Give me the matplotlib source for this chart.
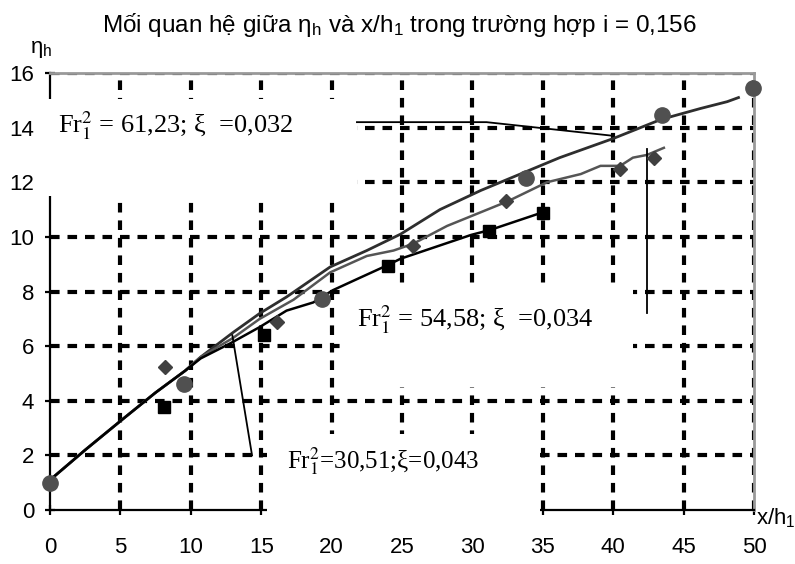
import matplotlib
matplotlib.use("Agg")
import matplotlib.pyplot as plt
from matplotlib.patches import Rectangle

plt.rcParams['font.family'] = ['Liberation Sans', 'DejaVu Sans']
plt.rcParams['mathtext.fontset'] = 'custom'
plt.rcParams['mathtext.rm'] = 'Liberation Sans'
plt.rcParams['mathtext.it'] = 'Liberation Sans:italic'

# fitted curves
x_61 = [0, 2.5, 5.1, 7.5, 9.6, 10.7, 13.0, 14.9, 16.8, 19.9, 22.5, 24.9, 27.7, 30.6, 33.4, 36.2, 40.0, 43.4, 46.2, 48.1, 48.9]
y_61 = [1.1, 2.2, 3.3, 4.3, 5.1, 5.6, 6.5, 7.2, 7.8, 8.9, 9.5, 10.1, 11.0, 11.7, 12.3, 12.9, 13.6, 14.3, 14.7, 14.95, 15.1]

x_54 = [0, 2.5, 5.1, 7.5, 9.6, 10.7, 13.0, 14.9, 17.3, 19.9, 22.5, 24.4, 25.8, 28.2, 32.5, 35.3, 37.7, 39.1, 40.5, 41.4, 42.4, 43.6]
y_54 = [1.1, 2.2, 3.3, 4.3, 5.1, 5.6, 6.3, 7.0, 7.7, 8.7, 9.3, 9.5, 9.75, 10.4, 11.3, 12.0, 12.3, 12.6, 12.6, 12.9, 13.0, 13.26]

x_30 = [0, 2.5, 5.1, 7.5, 9.6, 10.7, 12.8, 14.9, 16.8, 18.7, 20.1, 22.0, 24.0, 24.9, 29.9, 31.3, 35.0]
y_30 = [1.1, 2.2, 3.3, 4.3, 5.1, 5.55, 6.1, 6.7, 7.3, 7.6, 8.05, 8.5, 8.97, 9.2, 10.07, 10.26, 10.9]

# measured points
circ_x = [0, 9.5, 19.3, 33.8, 43.5, 49.9]
circ_y = [1.0, 4.6, 7.73, 12.15, 14.47, 15.46]
diam_x = [8.2, 16.1, 25.8, 32.4, 40.5, 42.9]
diam_y = [5.25, 6.9, 9.67, 11.3, 12.5, 12.9]
sq_x = [8.1, 15.2, 24.0, 31.2, 35.0]
sq_y = [3.77, 6.4, 8.94, 10.2, 10.87]

# leader lines for the labels
lead1_x, lead1_y = [21.8, 31.0, 40.0], [14.2, 14.2, 13.7]
lead2_x, lead2_y = [42.4, 42.4], [13.2, 7.2]
lead3_x, lead3_y = [12.95, 14.35], [6.4, 2.0]

labels = [r"Fr$_1^2$ = 61,23; ξ  =0,032", r"Fr$_1^2$ = 54,58; ξ  =0,034", r"Fr$_1^2$=30,51;ξ=0,043"]
label_pos = [(0.57, 13.8), (21.8, 6.7), (16.85, 1.54)]
label_size = [19, 19, 18]
# white boxes that hide the grid behind the labels
masks = [(-0.4, 11.5, 22.2, 3.55), (20.6, 4.5, 20.8, 3.65), (15.4, -0.25, 19.4, 3.05)]

xticks = [0, 5, 10, 15, 20, 25, 30, 35, 40, 45, 50]
yticks = [0, 2, 4, 6, 8, 10, 12, 14, 16]

fig = plt.figure(figsize=(7.95, 5.64), dpi=100)
ax = fig.add_axes([0.0629, 0.0957, 0.8855, 0.7749])
ax.set_xlim(0, 50)
ax.set_ylim(0, 16)

for v in xticks[1:]:
    ax.axvline(v, color='black', lw=3, ls=(0, (2.3, 1.9)), zorder=1)
for v in yticks[1:]:
    ax.axhline(v, color='black', lw=3, ls=(0, (2.3, 1.9)), zorder=1)

for sp in ['left', 'bottom']:
    ax.spines[sp].set_color('black')
    ax.spines[sp].set_linewidth(1.6)
for sp in ['top', 'right']:
    ax.spines[sp].set_color('#999999')
    ax.spines[sp].set_linewidth(2)

ax.set_xticks(xticks)
ax.set_yticks(yticks)
ax.tick_params(direction='inout', length=7, width=1.6, labelsize=16)
ax.tick_params(axis='x', pad=16)
ax.tick_params(axis='y', pad=8)

ax.plot(x_61, y_61, color='#2e2e2e', lw=2, zorder=3)
ax.plot(x_54, y_54, color='#555555', lw=1.8, zorder=3)
ax.plot(x_30, y_30, color='black', lw=1.8, zorder=3)

ax.plot(circ_x, circ_y, 'o', color='#505050', ms=11, ls='none', zorder=4, clip_on=False)
ax.plot(diam_x, diam_y, 'D', color='#404040', ms=6.8, ls='none', zorder=4, clip_on=False)
ax.plot(sq_x, sq_y, 's', color='black', ms=8.5, ls='none', zorder=4, clip_on=False)

for lx, ly in [(lead1_x, lead1_y), (lead2_x, lead2_y), (lead3_x, lead3_y)]:
    ax.plot(lx, ly, color='black', lw=1.3, zorder=3)

for (mx, my, mw, mh) in masks:
    ax.add_patch(Rectangle((mx, my), mw, mh, facecolor='white', edgecolor='none',
                           zorder=2.7, clip_on=False))

for txt, (tx, ty), fs in zip(labels, label_pos, label_size):
    ax.text(tx, ty, txt, family='Liberation Serif', math_fontfamily='stix',
            fontsize=fs, ha='left', va='baseline', zorder=5)

fig.text(0.503, 1 - 25 / 564, r"Mối quan hệ giữa η$_{\mathrm{h}}$ và x/h$_1$ trong trường hợp i = 0,156",
         ha='center', va='center', fontsize=17.5)
fig.text(30 / 795, 1 - 50 / 564, r"η$_{\mathrm{h}}$", ha='left', va='center', fontsize=16)
fig.text(756 / 795, 1 - 518 / 564, r"x/h$_1$", ha='left', va='center', fontsize=16)

fig.savefig('out.png', dpi=100)
